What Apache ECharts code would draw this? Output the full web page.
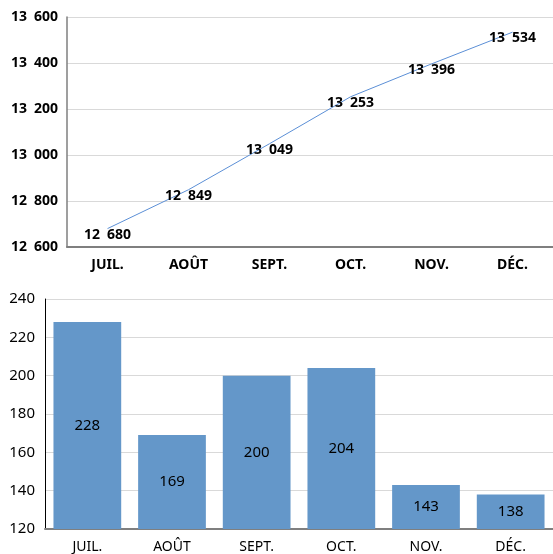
<!DOCTYPE html>
<html>
<head>
<meta charset="utf-8">
<script src="https://cdn.jsdelivr.net/npm/echarts@6/dist/echarts.min.js"></script>
<style>
  html, body { margin: 0; padding: 0; background: #fff; }
  #chart { width: 553px; height: 554px; }
</style>
</head>
<body>
<div id="chart"></div>
<script>
// mois
const months = ["JUIL.", "AOÛT", "SEPT.", "OCT.", "NOV.", "DÉC."];
// courbe du haut
const lineValues = [12680, 12849, 13049, 13253, 13396, 13534];
// barres du bas
const barValues = [228, 169, 200, 204, 143, 138];

const fontFamily = '"Noto Sans", "Open Sans", sans-serif';

// 13600 -> "13 600"
function frNum(v) {
  const s = String(Math.round(v));
  return s.replace(/\B(?=(\d{3})+(?!\d))/g, "\u2002");
}

const chart = echarts.init(document.getElementById("chart"));

chart.setOption({
  animation: false,
  textStyle: { fontFamily: fontFamily },
  grid: [
    { left: 67, top: 17, right: 0, height: 230 },
    { left: 45, top: 299, right: 0, height: 230 }
  ],
  xAxis: [
    {
      gridIndex: 0,
      type: "category",
      data: months,
      boundaryGap: true,
      axisLine: { lineStyle: { color: "#7f7f7f", width: 2 } },
      axisTick: { show: false },
      axisLabel: { color: "#000", fontWeight: "bold", fontSize: 14, margin: 11 }
    },
    {
      gridIndex: 1,
      type: "category",
      data: months,
      axisLine: { lineStyle: { color: "#7f7f7f", width: 2 } },
      axisTick: { show: false },
      axisLabel: { color: "#000", fontSize: 14, margin: 11 }
    }
  ],
  yAxis: [
    {
      gridIndex: 0,
      type: "value",
      min: 12600,
      max: 13600,
      interval: 200,
      axisLine: { show: true, lineStyle: { color: "#7f7f7f", width: 1.5 } },
      axisTick: { show: false },
      splitLine: { lineStyle: { color: "#d9d9d9", width: 1 } },
      axisLabel: {
        color: "#000",
        fontWeight: "bold",
        fontSize: 14,
        margin: 9,
        formatter: frNum
      }
    },
    {
      gridIndex: 1,
      type: "value",
      min: 120,
      max: 240,
      interval: 20,
      axisLine: { show: true, lineStyle: { color: "#000", width: 1 } },
      axisTick: { show: false },
      splitLine: { lineStyle: { color: "#d9d9d9", width: 1 } },
      axisLabel: { color: "#000", fontSize: 15, margin: 10 }
    }
  ],
  series: [
    {
      type: "line",
      xAxisIndex: 0,
      yAxisIndex: 0,
      data: lineValues,
      showSymbol: true,
      symbolSize: 0,
      lineStyle: { color: "#5b8fd6", width: 1 },
      itemStyle: { color: "#5b8fd6" },
      label: {
        show: true,
        position: "inside",
        offset: [0, 6],
        color: "#000",
        fontWeight: "bold",
        fontSize: 14,
        formatter: (p) => frNum(p.value)
      }
    },
    {
      type: "bar",
      xAxisIndex: 1,
      yAxisIndex: 1,
      data: barValues,
      barCategoryGap: "20%",
      itemStyle: { color: "#6497c9" },
      label: {
        show: true,
        position: "inside",
        color: "#000",
        fontSize: 15
      }
    }
  ]
});
</script>
</body>
</html>
